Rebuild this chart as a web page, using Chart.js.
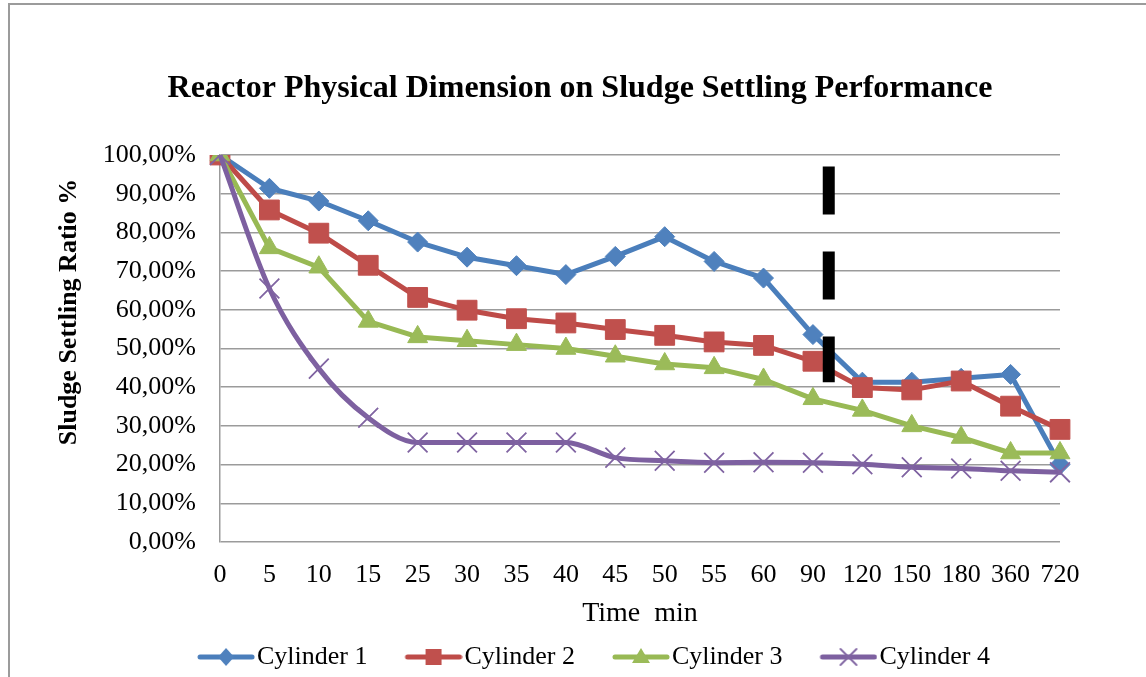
<!DOCTYPE html>
<html>
<head>
<meta charset="utf-8">
<title>Reactor Physical Dimension on Sludge Settling Performance</title>
<script src="https://cdn.jsdelivr.net/npm/chart.js@4.4.1/dist/chart.umd.min.js"></script>
<style>
  html, body { margin: 0; padding: 0; background: #fff; overflow: hidden; }
  #wrap { position: relative; width: 1146px; height: 677px; overflow: hidden; }
  #frame { position: absolute; left: 8px; top: 3px; width: 1200px; height: 720px;
           border-left: 2px solid #9b9b9b; border-top: 2px solid #9b9b9b; }
  #chart { position: absolute; left: 0; top: 0; }
</style>
</head>
<body>
<div id="wrap">
  <div id="frame"></div>
  <canvas id="chart" width="1146" height="677"></canvas>
</div>
<script>
// time (min) on the x axis
const timeLabels = ['0', '5', '10', '15', '25', '30', '35', '40', '45', '50', '55', '60', '90', '120', '150', '180', '360', '720'];

// sludge settling ratio, %
const cylinder1 = [100, 91.4, 88.1, 83.0, 77.5, 73.6, 71.4, 69.1, 73.8, 78.9, 72.5, 68.2, 53.6, 41.3, 41.3, 42.3, 43.3, 20.0];
const cylinder2 = [100, 85.8, 79.8, 71.5, 63.2, 59.9, 57.7, 56.6, 54.9, 53.4, 51.7, 50.8, 46.7, 39.9, 39.3, 41.6, 35.1, 29.1];
const cylinder3 = [100, 76.0, 71.0, 57.0, 53.0, 52.0, 51.0, 50.0, 48.0, 46.0, 45.0, 42.0, 37.0, 34.0, 30.0, 27.0, 23.0, 23.0];
const cylinder4 = [100, 65.5, 44.8, 32.1, 25.7, 25.7, 25.7, 25.7, 21.8, 21.0, 20.5, 20.6, 20.5, 20.1, 19.3, 19.0, 18.4, 18.0];

const seriesNames = ['Cylinder 1', 'Cylinder 2', 'Cylinder 3', 'Cylinder 4'];

// thick black dashed marker drawn just after the 90 min point (category index, y range in %)
const dashIndex = 12.32;
const dashFrom = 97;
const dashTo = 41.3;

const serif = "'Liberation Serif', 'Times New Roman', serif";
const bottomPad = -3;

function fmtPercent(v) {
    return v.toFixed(2).replace('.', ',') + '%';
}

// small line + marker picture for the legend, like Excel does
function legendSymbol(lineColor, markColor, shape) {
    const c = document.createElement('canvas');
    c.width = 96;
    c.height = 26;
    const g = c.getContext('2d');
    g.strokeStyle = lineColor;
    g.lineWidth = 5;
    g.lineCap = 'round';
    g.beginPath();
    g.moveTo(41, 13);
    g.lineTo(93, 13);
    g.stroke();

    const x = 67, y = 13;
    g.fillStyle = markColor;
    g.strokeStyle = markColor;
    g.beginPath();
    if (shape === 'diamond') {
        g.moveTo(x, y - 9); g.lineTo(x + 8, y); g.lineTo(x, y + 9); g.lineTo(x - 8, y);
        g.closePath(); g.fill();
    } else if (shape === 'square') {
        g.rect(x - 8, y - 8, 16, 16); g.fill();
    } else if (shape === 'triangle') {
        g.moveTo(x, y - 9); g.lineTo(x + 9, y + 6); g.lineTo(x - 9, y + 6);
        g.closePath(); g.fill();
    } else {
        g.lineWidth = 1.8;
        g.moveTo(x - 8, y - 8); g.lineTo(x + 8, y + 8);
        g.moveTo(x + 8, y - 8); g.lineTo(x - 8, y + 8);
        g.stroke();
    }
    return c;
}

const legendImages = [
    legendSymbol('#4A7EBB', '#4F81BD', 'diamond'),
    legendSymbol('#BE4B48', '#C0504D', 'square'),
    legendSymbol('#98B954', '#9BBB59', 'triangle'),
    legendSymbol('#7D60A0', '#8064A2', 'cross')
];

const dashMarker = {
    id: 'dashMarker',
    afterDatasetsDraw(chart) {
        const { ctx, scales: { x, y } } = chart;
        const px = x.getPixelForValue(dashIndex);
        ctx.save();
        ctx.strokeStyle = '#000';
        ctx.lineWidth = 12;
        ctx.setLineDash([48, 37]);
        ctx.beginPath();
        ctx.moveTo(px, y.getPixelForValue(dashFrom));
        ctx.lineTo(px, y.getPixelForValue(dashTo));
        ctx.stroke();
        ctx.restore();
    }
};

// y axis title, Excel centres it a bit higher than the plot area
const yTitle = {
    id: 'yTitle',
    afterDraw(chart) {
        const ctx = chart.ctx;
        ctx.save();
        ctx.translate(69, 312);
        ctx.rotate(-Math.PI / 2);
        ctx.font = 'bold 26px ' + serif;
        ctx.fillStyle = '#000';
        ctx.textAlign = 'center';
        ctx.textBaseline = 'middle';
        ctx.fillText('Sludge Settling Ratio %', 0, 0);
        ctx.restore();
    }
};

function lineSet(label, data, lineColor, markColor, style, radius, extra) {
    return Object.assign({
        label: label,
        data: data,
        borderColor: lineColor,
        backgroundColor: markColor,
        borderWidth: 5,
        borderJoinStyle: 'round',
        borderCapStyle: 'round',
        pointStyle: style,
        pointRadius: radius,
        pointHoverRadius: radius,
        pointBorderWidth: 1,
        pointBackgroundColor: markColor,
        pointBorderColor: markColor,
        tension: 0
    }, extra || {});
}

document.addEventListener('DOMContentLoaded', () => {
    const ctx = document.getElementById('chart');

    new Chart(ctx, {
        type: 'line',
        data: {
            labels: timeLabels,
            datasets: [
                lineSet(seriesNames[0], cylinder1, '#4A7EBB', '#4F81BD', 'rectRot', 10, { order: 4 }),
                lineSet(seriesNames[1], cylinder2, '#BE4B48', '#C0504D', 'rect', 14, { order: 3 }),
                lineSet(seriesNames[2], cylinder3, '#98B954', '#9BBB59', 'triangle', 11.5, { order: 2 }),
                lineSet(seriesNames[3], cylinder4, '#7D60A0', '#8064A2', 'crossRot', 14,
                    { order: 1, pointBorderWidth: 1.8, cubicInterpolationMode: 'monotone' })
            ]
        },
        options: {
            responsive: false,
            animation: false,
            layout: {
                padding: { left: 100, right: 86, top: 0, bottom: bottomPad }
            },
            plugins: {
                title: {
                    display: true,
                    text: 'Reactor Physical Dimension on Sludge Settling Performance',
                    color: '#000',
                    font: { family: serif, size: 32, weight: 'bold' },
                    padding: { top: 70, bottom: 46.6 }
                },
                legend: {
                    position: 'bottom',
                    labels: {
                        usePointStyle: true,
                        pointStyleWidth: 74,
                        padding: 10,
                        color: '#000',
                        font: { family: serif, size: 26 },
                        generateLabels: chart => chart.data.datasets.map((ds, i) => ({
                            text: ds.label,
                            pointStyle: legendImages[i],
                            fillStyle: ds.backgroundColor,
                            strokeStyle: ds.borderColor,
                            lineWidth: 0,
                            hidden: false,
                            datasetIndex: i
                        }))
                    }
                },
                tooltip: { enabled: false }
            },
            scales: {
                x: {
                    offset: false,
                    grid: { display: false, drawTicks: false },
                    border: { display: false },
                    ticks: {
                        autoSkip: false,
                        maxRotation: 0,
                        padding: 18,
                        color: '#000',
                        font: { family: serif, size: 26 }
                    },
                    title: {
                        display: true,
                        text: 'Time  min',
                        color: '#000',
                        font: { family: serif, size: 28 },
                        padding: { top: 0, bottom: 1 - bottomPad }
                    },
                    afterFit: scale => {
                        scale.height = scale.chart.height - bottomPad - scale.chart.legend.height - 542;
                    }
                },
                y: {
                    min: 0,
                    max: 100,
                    grid: { color: '#9b9b9b', lineWidth: 1.5, drawTicks: false },
                    border: { display: true, color: '#9b9b9b', width: 1.5 },
                    ticks: {
                        stepSize: 10,
                        padding: 24,
                        color: '#000',
                        font: { family: serif, size: 26 },
                        callback: v => fmtPercent(v)
                    },
                    afterFit: scale => {
                        scale.width = 120;
                    }
                }
            }
        },
        plugins: [dashMarker, yTitle]
    });
});
</script>
</body>
</html>
